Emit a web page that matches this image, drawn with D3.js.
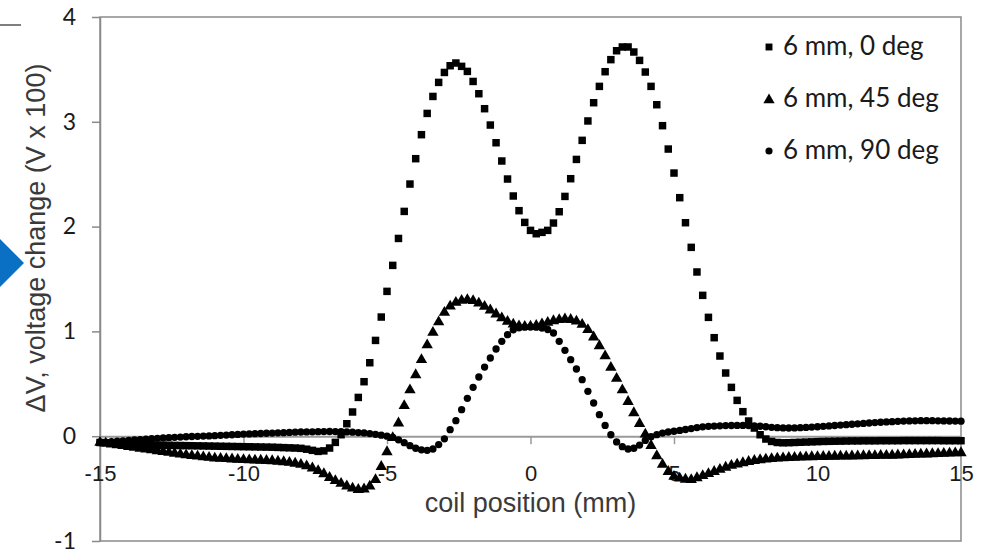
<!DOCTYPE html>
<html>
<head>
<meta charset="utf-8">
<script src="https://cdn.jsdelivr.net/npm/d3@7/dist/d3.min.js"></script>
<style>
  body { margin: 0; background: #fff; }
</style>
</head>
<body>
<svg width="984" height="549"></svg>
<script>
// coil position sampled every 0.2 mm from -15 to 15
var positions = d3.range(151).map(function(i) { return -15 + i * 0.2; });

var seriesNames = ["6 mm, 0 deg", "6 mm, 45 deg", "6 mm, 90 deg"];

// 6 mm, 0 deg  (squares)
var deg0 = [
  -0.060,-0.063,-0.066,-0.069,-0.072,-0.075,-0.077,-0.079,-0.081,-0.083,
  -0.085,-0.086,-0.087,-0.088,-0.089,-0.090,-0.091,-0.092,-0.093,-0.094,
  -0.095,-0.096,-0.097,-0.098,-0.099,-0.100,-0.101,-0.102,-0.103,-0.104,
  -0.105,-0.107,-0.109,-0.111,-0.113,-0.116,-0.124,-0.135,-0.145,-0.140,
  -0.113,-0.059,0.014,0.119,0.231,0.370,0.520,0.701,0.914,1.137,
  1.382,1.630,1.887,2.145,2.406,2.648,2.877,3.080,3.242,3.376,
  3.471,3.535,3.561,3.529,3.481,3.385,3.268,3.125,2.969,2.800,
  2.626,2.454,2.292,2.152,2.040,1.964,1.932,1.945,1.964,2.034,
  2.142,2.288,2.457,2.641,2.823,3.008,3.182,3.338,3.478,3.593,
  3.678,3.714,3.714,3.666,3.586,3.475,3.338,3.163,2.963,2.740,
  2.511,2.276,2.037,1.802,1.567,1.344,1.134,0.940,0.765,0.603,
  0.466,0.342,0.234,0.145,0.078,0.014,-0.027,-0.050,-0.060,-0.063,
  -0.062,-0.060,-0.058,-0.056,-0.054,-0.052,-0.050,-0.049,-0.048,-0.047,
  -0.046,-0.045,-0.045,-0.044,-0.044,-0.044,-0.043,-0.043,-0.043,-0.043,
  -0.042,-0.042,-0.042,-0.042,-0.042,-0.042,-0.042,-0.043,-0.043,-0.043,
  -0.043
];

// 6 mm, 45 deg  (triangles)
var deg45 = [
  -0.060,-0.068,-0.076,-0.084,-0.092,-0.100,-0.108,-0.116,-0.124,-0.132,
  -0.140,-0.148,-0.156,-0.164,-0.172,-0.180,-0.186,-0.192,-0.198,-0.204,
  -0.210,-0.213,-0.216,-0.219,-0.222,-0.225,-0.227,-0.229,-0.231,-0.233,
  -0.236,-0.240,-0.245,-0.251,-0.259,-0.270,-0.285,-0.305,-0.330,-0.360,
  -0.395,-0.425,-0.452,-0.477,-0.497,-0.510,-0.505,-0.478,-0.415,-0.290,
  -0.150,-0.015,0.125,0.290,0.440,0.585,0.730,0.870,0.990,1.090,
  1.180,1.240,1.275,1.295,1.302,1.292,1.268,1.238,1.203,1.165,
  1.128,1.095,1.068,1.052,1.046,1.048,1.056,1.070,1.085,1.100,
  1.111,1.117,1.112,1.096,1.065,1.015,0.945,0.862,0.765,0.655,
  0.550,0.440,0.330,0.222,0.120,0.018,-0.090,-0.188,-0.270,-0.338,
  -0.385,-0.402,-0.412,-0.415,-0.398,-0.378,-0.358,-0.338,-0.318,-0.298,
  -0.280,-0.268,-0.255,-0.243,-0.233,-0.226,-0.220,-0.215,-0.211,-0.208,
  -0.205,-0.203,-0.201,-0.199,-0.197,-0.196,-0.195,-0.194,-0.193,-0.192,
  -0.191,-0.190,-0.189,-0.188,-0.187,-0.186,-0.185,-0.184,-0.183,-0.181,
  -0.179,-0.177,-0.175,-0.173,-0.171,-0.169,-0.167,-0.165,-0.163,-0.161,
  -0.159
];

// 6 mm, 90 deg  (circles)
var deg90 = [
  -0.060,-0.056,-0.052,-0.048,-0.044,-0.040,-0.036,-0.032,-0.028,-0.024,
  -0.020,-0.017,-0.014,-0.011,-0.008,-0.005,-0.003,-0.001,0.001,0.003,
  0.005,0.008,0.011,0.014,0.017,0.020,0.022,0.024,0.026,0.028,
  0.030,0.032,0.034,0.036,0.038,0.040,0.041,0.042,0.043,0.044,
  0.045,0.044,0.043,0.041,0.038,0.035,0.031,0.025,0.018,0.010,
  0.000,-0.012,-0.035,-0.062,-0.090,-0.115,-0.130,-0.135,-0.122,-0.080,
  -0.025,0.062,0.148,0.253,0.361,0.466,0.565,0.660,0.746,0.832,
  0.905,0.969,1.016,1.035,1.040,1.042,1.040,1.032,1.018,0.985,
  0.905,0.819,0.730,0.641,0.539,0.428,0.317,0.205,0.103,0.014,
  -0.055,-0.100,-0.122,-0.115,-0.085,-0.040,-0.005,0.015,0.030,0.040,
  0.047,0.055,0.064,0.073,0.082,0.089,0.094,0.097,0.099,0.101,
  0.102,0.103,0.103,0.102,0.099,0.095,0.090,0.085,0.081,0.079,
  0.078,0.079,0.081,0.084,0.087,0.090,0.094,0.098,0.102,0.106,
  0.110,0.114,0.118,0.122,0.126,0.130,0.133,0.136,0.139,0.142,
  0.144,0.146,0.147,0.148,0.148,0.148,0.147,0.146,0.145,0.144,
  0.143
];

var xTicks = [-15, -10, -5, 0, 5, 10, 15];
var yTicks = [-1, 0, 1, 2, 3, 4];

var svg = d3.select("svg");
var axisGray = "#8a8a8a";

var x = d3.scaleLinear().domain([-15, 15]).range([100, 961]);
var y = d3.scaleLinear().domain([-1, 4]).range([541, 17]);

// stray bits from the slide at the left edge
svg.append("line")
    .attr("x1", 0).attr("x2", 21).attr("y1", 25).attr("y2", 25)
    .attr("stroke", "#3a3a3a").attr("stroke-width", 1.3);
svg.append("polygon")
    .attr("points", "0,239 24,263 0,287")
    .attr("fill", "#0a70c4");

// plot frame
svg.append("rect")
    .attr("x", x(-15)).attr("y", y(4))
    .attr("width", x(15) - x(-15)).attr("height", y(-1) - y(4))
    .attr("fill", "none").attr("stroke", axisGray).attr("stroke-width", 1.5);

// y axis
var yAxis = svg.append("g")
    .attr("transform", "translate(" + x(-15) + ",0)")
    .call(d3.axisLeft(y).tickValues(yTicks).tickSize(8).tickSizeOuter(0).tickFormat(String));
yAxis.select(".domain").attr("stroke", axisGray).attr("stroke-width", 1.5);
yAxis.selectAll(".tick line").attr("stroke", axisGray).attr("stroke-width", 1.5);
yAxis.selectAll(".tick text")
    .attr("x", -24).attr("dy", "0.32em")
    .attr("fill", "#1a1a1a")
    .style("font-family", "Lato, 'Open Sans', sans-serif")
    .style("font-size", "23px");

// x axis sits on the zero line
var xAxis = svg.append("g")
    .attr("transform", "translate(0," + y(0) + ")")
    .call(d3.axisBottom(x).tickValues(xTicks).tickSize(8).tickSizeOuter(0).tickFormat(String));
xAxis.select(".domain").attr("stroke", "#9a9a9a").attr("stroke-width", 2);
xAxis.selectAll(".tick line").attr("stroke", "#9a9a9a").attr("stroke-width", 1.5);
xAxis.selectAll(".tick text")
    .attr("y", 45).attr("dy", 0)
    .attr("fill", "#1a1a1a")
    .style("font-family", "'Liberation Sans', Arial, sans-serif")
    .style("font-size", "22px");

// axis titles
svg.append("text")
    .attr("x", (x(-15) + x(15)) / 2).attr("y", 512)
    .attr("text-anchor", "middle")
    .attr("fill", "#3a3a3a")
    .style("font-family", "'Liberation Sans', Arial, sans-serif")
    .style("font-size", "27px")
    .text("coil position (mm)");

svg.append("text")
    .attr("transform", "translate(45,238) rotate(-90)")
    .attr("text-anchor", "middle")
    .attr("fill", "#3a3a3a")
    .style("font-family", "'Liberation Sans', Arial, sans-serif")
    .style("font-size", "27px")
    .text("\u0394V, voltage change (V x 100)");

// series
var series = [
  { name: seriesNames[0], values: deg0, symbol: d3.symbolSquare, size: 56 },
  { name: seriesNames[1], values: deg45, symbol: d3.symbolTriangle, size: 56 },
  { name: seriesNames[2], values: deg90, symbol: d3.symbolCircle, size: 42 }
];

series.forEach(function(s) {
  var pts = s.values.map(function(v, i) { return { x: positions[i], y: v }; });
  svg.append("g")
    .selectAll("path")
    .data(pts)
    .enter().append("path")
      .attr("d", d3.symbol().type(s.symbol).size(s.size))
      .attr("transform", function(d) { return "translate(" + x(d.x) + "," + y(d.y) + ")"; })
      .attr("fill", "#000");
});

// legend
var legendSizes = [48, 55, 40];
var legend = svg.append("g");
series.forEach(function(s, i) {
  var cy = 47 + i * 52;
  legend.append("path")
      .attr("d", d3.symbol().type(s.symbol).size(legendSizes[i]))
      .attr("transform", "translate(769," + (cy + (i === 1 ? 1 : 0)) + ")")
      .attr("fill", "#000");
  legend.append("text")
      .attr("x", 783).attr("y", cy + 8)
      .attr("fill", "#1a1a1a")
      .style("font-family", "Lato, 'Open Sans', sans-serif")
      .style("font-size", "26px")
      .text(s.name);
});
</script>
</body>
</html>
